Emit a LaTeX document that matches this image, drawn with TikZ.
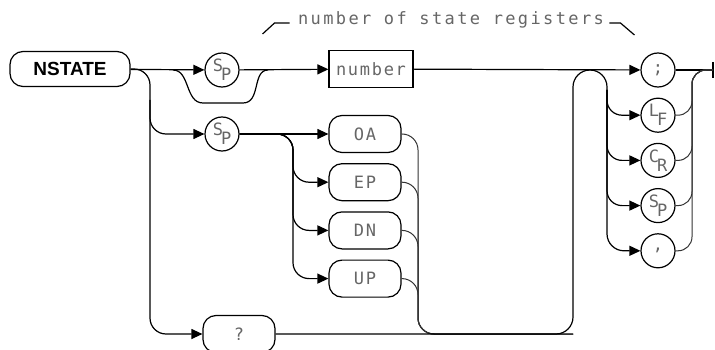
\documentclass[tikz,border=0pt]{standalone}
\usepackage{fontspec}
\setmainfont{Liberation Sans}
\newfontfamily\plotfont[LetterSpace=10]{DejaVu Sans Mono}
\newfontfamily\notefont[LetterSpace=14]{DejaVu Sans Mono}
\usepackage{xcolor}
\usepackage{tikz}
\usetikzlibrary{arrows.meta,positioning,calc}
\definecolor{ink}{HTML}{000000}
\definecolor{pen}{HTML}{666666}
\tikzset{
  keyword/.style={draw=ink,line width=1.2pt,rounded corners=13pt,minimum height=37pt,
    minimum width=72pt,inner sep=0pt,font=\plotfont\fontsize{17}{17}\selectfont,text=pen},
  head/.style={keyword,minimum width=120pt,minimum height=35pt,
    font=\bfseries\fontsize{19}{19}\selectfont,text=ink},
  chr/.style={circle,draw=ink,line width=1.2pt,minimum size=34pt,inner sep=0pt,
    font=\plotfont\fontsize{17}{17}\selectfont,text=pen},
  field/.style={draw=ink,line width=1.2pt,minimum width=84pt,minimum height=37pt,inner sep=0pt,
    font=\plotfont\fontsize{17}{17}\selectfont,text=pen},
  link/.style={line width=1.2pt,draw=ink},
  faint/.style={line width=1pt,draw=ink!80},
  arr/.style={link,-{Triangle[length=11pt,width=10pt]}},
  lbl/.style={font=\notefont\fontsize{17}{17}\selectfont,text=pen}
}
\newcommand{\stk}[2]{\raisebox{4pt}{#1}\kern-2pt\raisebox{-5pt}{#2}}

\begin{document}
\begin{tikzpicture}[x=1pt,y=-1pt]
 \useasboundingbox (0,0) rectangle (715,350);
 % command and first parameter
 \node[head] (nstate) at (70,69) {NSTATE};
 \node[chr] (sp1) at (222,70) {\stk{S}{P}};
 \node[field] (num) at (371,69) {number};
 \node[lbl] (note) at (451,20) {number of state registers};
 % terminators
 \node[chr] (semi) at (658,70) {;};
 \node[chr,below=10pt of semi] (lf) {\stk{L}{F}};
 \node[chr,below=10pt of lf] (cr) {\stk{C}{R}};
 \node[chr,below=10pt of cr] (spb) {\stk{S}{P}};
 \node[chr,below=10pt of spb] (comma) {,};
 % modes
 \node[chr] (sp2) at (222,134) {\stk{S}{P}};
 \node[keyword] (oa) at (365,134) {OA};
 \node[keyword,below=10pt of oa] (ep) {EP};
 \node[keyword,below=10pt of ep] (dn) {DN};
 \node[keyword,below=10pt of dn] (up) {UP};
 \node[keyword] (qm) at (239,334) {?};
 % junctions
 \coordinate (exit) at (713,70);
 \coordinate (fork) at (150,69);
 \coordinate (forkB) at (150,100);
 \coordinate (skipA) at (173,70);
 \coordinate (skipB) at (268,70);
 \coordinate (railA) at (293,134);
 \coordinate (railB) at (418,334);
 \coordinate (back) at (573,334);
 \coordinate (archL) at (573,70);
 \coordinate (archR) at (607,70);
 \coordinate (railL) at (607,90);
 \coordinate (railR) at (692,70);

 \draw[arr] (nstate) -- (sp1);
 \draw[arr] (sp1) -- (num);
 \draw[arr] (num) -- (semi);
 \draw[link] (semi) -- (exit);
 \draw[link] ($(exit)+(0,-8)$) -- ($(exit)+(0,8)$);
 \draw[link] (skipA) .. controls (190,70) and (185,103) .. (203,103) -- (243,103)
   .. controls (261,103) and (252,70) .. (skipB);
 \draw[link] ($(note.west)+(-5,3)$) -- ++(-15,0) -- ++(-12,11);
 \draw[link] ($(note.east)+(2,3)$) -- ++(11,0) -- ++(14,12);

 \draw[arr,rounded corners=16pt] (nstate.east) -- (fork) |- (qm);
 \draw[arr,rounded corners=16pt] (forkB) |- (sp2);
 \draw[arr] (sp2) -- (oa);
 \foreach \n in {ep,dn,up}
   \draw[arr,rounded corners=16pt] (sp2.east) -- (railA) |- (\n);
 \foreach \n in {oa,ep,dn,up}
   \draw[faint,rounded corners=16pt] (\n.east) -| (railB) -- (back);

 \draw[arr,rounded corners=17pt] (qm) -- (back) -- (archL) -- (archR) |- (comma);
 \foreach \n in {lf,cr,spb}
   \draw[arr,rounded corners=15pt] (railL) |- (\n);
 \foreach \n in {lf,cr,spb,comma}
   \draw[faint,rounded corners=14pt] (\n) -| (railR) -- (exit);
\end{tikzpicture}
\end{document}
